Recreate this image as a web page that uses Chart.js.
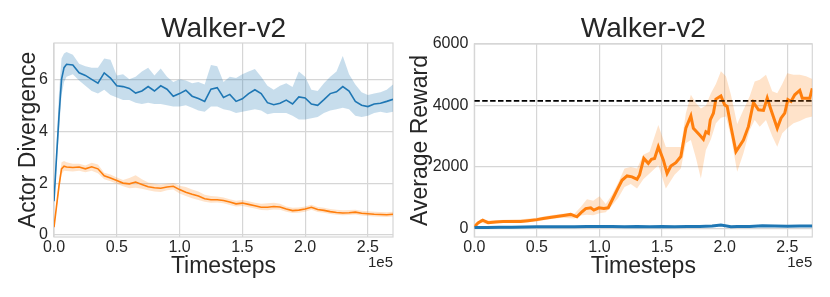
<!DOCTYPE html>
<html>
<head>
<meta charset="utf-8">
<script src="https://cdn.jsdelivr.net/npm/chart.js@4.4.0/dist/chart.umd.min.js"></script>
<style>
  html, body { margin: 0; padding: 0; background: #fff; }
  #wrap { position: relative; width: 830px; height: 297px; }
  .box { position: absolute; top: 0; height: 297px; }
</style>
</head>
<body>
<div id="wrap">
  <div class="box" style="left:0;width:405px"><canvas id="divChart" width="405" height="297"></canvas></div>
  <div class="box" style="left:405px;width:425px"><canvas id="rewChart" width="425" height="297"></canvas></div>
</div>
<script>
// x values are in units of 1e5 timesteps
const xTicks = [0, 0.5, 1.0, 1.5, 2.0, 2.5];
const divYTicks = [0, 2, 4, 6];
const rewYTicks = [0, 2000, 4000, 6000];

// --- left panel: actor divergence ---
const divX = [0, 0.02, 0.04, 0.06, 0.08, 0.10, 0.15, 0.20, 0.25, 0.30, 0.35, 0.40, 0.45, 0.50, 0.55, 0.60,
  0.65, 0.70, 0.75, 0.80, 0.85, 0.90, 0.95, 1.00, 1.05, 1.10, 1.15, 1.20, 1.25, 1.30, 1.35, 1.40, 1.45,
  1.50, 1.55, 1.60, 1.65, 1.70, 1.75, 1.80, 1.85, 1.90, 1.95, 2.00, 2.05, 2.10, 2.15, 2.20, 2.25, 2.30,
  2.35, 2.40, 2.45, 2.50, 2.55, 2.60, 2.65, 2.70];
const divBlue = [1.3, 3.0, 4.6, 6.0, 6.45, 6.58, 6.55, 6.25, 6.15, 6.0, 5.85, 6.25, 6.05, 5.75, 5.72, 5.65,
  5.47, 5.55, 5.72, 5.55, 5.75, 5.62, 5.35, 5.45, 5.58, 5.35, 5.26, 5.15, 5.62, 5.68, 5.3, 5.42, 5.15,
  5.25, 5.45, 5.6, 5.45, 5.1, 5.02, 5.08, 5.2, 5.05, 5.32, 5.28, 5.05, 5.0, 5.22, 5.45, 5.52, 5.72,
  5.55, 5.15, 5.0, 4.95, 5.05, 5.08, 5.15, 5.23];
const divBlueHi = [1.3, 3.4, 5.5, 6.8, 7.0, 7.05, 6.95, 6.6, 6.5, 6.45, 6.45, 6.8, 6.75, 6.15, 6.2, 6.0,
  6.1, 6.3, 6.45, 6.15, 6.42, 6.1, 5.9, 6.0, 5.95, 5.85, 5.9, 5.8, 6.55, 6.5, 5.9, 6.1, 6.05,
  6.2, 6.3, 6.4, 6.1, 5.75, 5.6, 5.75, 5.85, 5.7, 6.3, 6.1, 5.6, 5.55, 5.85, 6.1, 6.3, 6.9,
  6.2, 5.8, 5.5, 5.4, 5.45, 5.5, 5.6, 5.8];
const divBlueLo = [1.3, 2.6, 4.0, 5.4, 5.9, 6.1, 6.2, 5.95, 5.75, 5.55, 5.45, 5.6, 5.4, 5.3, 5.2, 5.2,
  5.1, 5.05, 5.1, 5.05, 5.05, 5.0, 4.95, 4.95, 5.0, 4.9, 4.8, 4.75, 4.95, 4.95, 4.85, 4.8, 4.7,
  4.75, 4.8, 4.85, 4.8, 4.65, 4.7, 4.7, 4.7, 4.6, 4.45, 4.45, 4.5, 4.55, 4.7, 4.8, 4.85, 4.9,
  4.85, 4.6, 4.55, 4.6, 4.7, 4.75, 4.7, 4.75];
const divOrange = [0.3, 1.1, 1.9, 2.55, 2.65, 2.62, 2.6, 2.62, 2.55, 2.63, 2.55, 2.28, 2.2, 2.1, 2.0, 1.97,
  2.04, 1.95, 1.86, 1.82, 1.8, 1.85, 1.88, 1.75, 1.65, 1.57, 1.5, 1.4, 1.36, 1.36, 1.33, 1.27, 1.2,
  1.23, 1.18, 1.13, 1.07, 1.07, 1.1, 1.08, 1.0, 0.94, 0.96, 1.0, 1.07, 0.98, 0.95, 0.9, 0.87, 0.85,
  0.86, 0.88, 0.84, 0.82, 0.8, 0.79, 0.78, 0.8];
const divOrangeHi = [0.3, 1.2, 2.1, 2.8, 2.85, 2.8, 2.75, 2.75, 2.68, 2.78, 2.72, 2.4, 2.33, 2.22, 2.12, 2.2,
  2.3, 2.15, 2.02, 1.98, 1.95, 1.98, 2.0, 1.9, 1.85, 1.75, 1.68, 1.55, 1.5, 1.48, 1.45, 1.38, 1.32,
  1.35, 1.3, 1.24, 1.2, 1.22, 1.24, 1.2, 1.1, 1.05, 1.06, 1.1, 1.17, 1.08, 1.05, 1.0, 0.97, 0.95,
  0.96, 0.97, 0.93, 0.92, 0.9, 0.89, 0.88, 0.9];
const divOrangeLo = [0.3, 1.0, 1.7, 2.35, 2.48, 2.47, 2.45, 2.48, 2.42, 2.48, 2.38, 2.15, 2.07, 1.98, 1.88, 1.8,
  1.82, 1.78, 1.72, 1.68, 1.66, 1.72, 1.75, 1.6, 1.5, 1.42, 1.35, 1.28, 1.24, 1.25, 1.22, 1.16, 1.1,
  1.12, 1.07, 1.02, 0.96, 0.95, 0.98, 0.97, 0.9, 0.85, 0.86, 0.9, 0.97, 0.89, 0.86, 0.81, 0.78, 0.76,
  0.77, 0.79, 0.75, 0.73, 0.71, 0.7, 0.69, 0.71];

// --- right panel: average reward ---
const rewX = [0, 0.03, 0.067, 0.11, 0.17, 0.23, 0.30, 0.37, 0.43, 0.50, 0.55, 0.63, 0.70, 0.77, 0.82, 0.86,
  0.89, 0.93, 0.955, 0.995, 1.035, 1.07, 1.10, 1.14, 1.18, 1.22, 1.26, 1.30, 1.32, 1.354, 1.39, 1.415,
  1.44, 1.47, 1.51, 1.54, 1.57, 1.61, 1.65, 1.69, 1.73, 1.75, 1.80, 1.83, 1.85, 1.87, 1.885, 1.91,
  1.93, 1.97, 2.00, 2.02, 2.05, 2.09, 2.15, 2.19, 2.23, 2.27, 2.31, 2.34, 2.37, 2.42, 2.45, 2.48,
  2.505, 2.53, 2.56, 2.60, 2.62, 2.68, 2.70];
const rewOrange = [50, 185, 270, 190, 215, 225, 225, 230, 255, 290, 325, 375, 415, 460, 380, 545,
  650, 675, 600, 675, 650, 675, 920, 1250, 1570, 1710, 1680, 1600, 1740, 2280, 2120, 2250,
  2280, 2660, 2230, 1790, 2030, 2140, 2340, 3260, 3660, 3260, 3040, 2900, 3150, 3100, 3530, 3750,
  4210, 4310, 4020, 3970, 3320, 2500, 2880, 3320, 4100, 3860, 3840, 4240, 3860, 3260, 3590, 3750,
  4190, 4130, 4350, 4490, 4240, 4240, 4560];
const rewBandX = [0, 0.05, 0.1, 0.2, 0.3, 0.4, 0.5, 0.6, 0.7, 0.8, 0.85, 0.9, 0.95, 1.0, 1.05, 1.1,
  1.15, 1.2, 1.25, 1.3, 1.35, 1.4, 1.47, 1.53, 1.6, 1.65, 1.69, 1.73, 1.77, 1.81, 1.85, 1.89,
  1.93, 1.97, 2.01, 2.05, 2.1, 2.15, 2.2, 2.24, 2.28, 2.33, 2.38, 2.42, 2.46, 2.5, 2.55, 2.6,
  2.65, 2.7];
const rewOrangeHi = [60, 300, 260, 280, 290, 310, 350, 420, 480, 480, 700, 950, 900, 1050, 800, 1100,
  1500, 1950, 2000, 1950, 2400, 2500, 3370, 2650, 2650, 2650, 3750, 4350, 4080, 3900, 4000, 4400,
  4700, 5110, 4950, 4350, 3400, 3860, 4300, 4780, 4840, 5000, 4460, 4400, 4700, 5050, 5000, 5000,
  4950, 4860];
const rewOrangeLo = [40, 190, 150, 180, 180, 200, 230, 300, 350, 330, 420, 450, 430, 500, 530, 750,
  1000, 1350, 1450, 1300, 1600, 1790, 2060, 1300, 1750, 1950, 2770, 2880, 2300, 1630, 2550, 2900,
  3420, 3600, 3640, 2990, 1850, 2450, 3200, 3530, 3310, 3530, 3000, 2660, 3100, 3260, 3420, 3500,
  3590, 3640];
const rewBlueX = [0, 0.1, 0.2, 0.3, 0.4, 0.5, 0.6, 0.7, 0.8, 0.9, 1.0, 1.1, 1.2, 1.3, 1.4, 1.5, 1.6,
  1.7, 1.8, 1.9, 1.97, 2.05, 2.1, 2.2, 2.3, 2.4, 2.5, 2.6, 2.7];
const rewBlue = [30, 35, 40, 45, 50, 55, 55, 60, 60, 65, 70, 65, 60, 65, 60, 65, 60,
  70, 70, 80, 115, 60, 65, 70, 90, 80, 75, 80, 85];
const rewBlueHi = [40, 55, 60, 65, 70, 75, 75, 80, 80, 85, 90, 85, 80, 85, 80, 85, 80,
  90, 95, 105, 145, 85, 90, 95, 115, 105, 100, 105, 110];
const rewBlueLo = [20, 15, 20, 25, 30, 35, 35, 40, 40, 45, 50, 45, 40, 45, 40, 45, 40,
  50, 50, 55, 85, 40, 45, 50, 65, 55, 50, 55, 60];
const rewRef = [4150];

const BLUE = '#1f77b4', ORANGE = '#ff7f0e';
const BLUE_FILL = 'rgba(31,119,180,0.25)', ORANGE_FILL = 'rgba(255,127,14,0.22)';
const GRID = '#d6d6d6', TEXT = '#262626';
const FONT = '"Liberation Sans", Arial, sans-serif';

function pts(xs, ys) {
  return xs.map((x, i) => ({ x, y: ys[i] }));
}

function band(xs, hi, lo, color) {
  return [
    { data: pts(xs, hi), borderWidth: 0, pointRadius: 0, backgroundColor: color, fill: '+1' },
    { data: pts(xs, lo), borderWidth: 0, pointRadius: 0, fill: false }
  ];
}

function line(xs, ys, color, w) {
  return { data: pts(xs, ys), borderColor: color, borderWidth: w, pointRadius: 0, fill: false };
}

// light frame round the plot + the "1e5" offset text
const frameAndOffset = {
  id: 'frameAndOffset',
  beforeDatasetsDraw(chart) {
    const { ctx, chartArea: a } = chart;
    ctx.save();
    ctx.strokeStyle = GRID;
    ctx.lineWidth = 1.2;
    ctx.strokeRect(a.left, a.top, a.right - a.left, a.bottom - a.top);
    ctx.restore();
  },
  afterDraw(chart) {
    const { ctx, chartArea: a } = chart;
    ctx.save();
    ctx.font = '15px ' + FONT;
    ctx.fillStyle = TEXT;
    ctx.textAlign = 'right';
    ctx.textBaseline = 'top';
    ctx.fillText('1e5', a.right, a.bottom + 18);
    ctx.restore();
  }
};

function makeOptions(o) {
  return {
    responsive: false,
    animation: false,
    events: [],
    layout: { padding: { left: 0, right: o.padRight, top: 0, bottom: 0 } },
    plugins: {
      legend: { display: false },
      tooltip: { enabled: false },
      title: {
        display: true, text: 'Walker-v2', fullSize: false, color: TEXT,
        font: { family: FONT, size: 28, weight: 'normal', lineHeight: 1.0 },
        padding: { top: 15, bottom: o.titleBottom }
      }
    },
    scales: {
      x: {
        type: 'linear', min: 0, max: 2.7,
        afterBuildTicks: s => { s.ticks = xTicks.map(v => ({ value: v })); },
        afterFit: s => { s.height = 60; },
        grid: { color: GRID, lineWidth: 1.2, drawTicks: false },
        border: { display: false },
        ticks: { color: TEXT, padding: 1, font: { family: FONT, size: 16 }, callback: v => v.toFixed(1) },
        title: { display: true, text: 'Timesteps', color: TEXT, padding: { bottom: 17 },
          font: { family: FONT, size: 23, lineHeight: 1.2 } }
      },
      y: {
        type: 'linear', min: o.yMin, max: o.yMax,
        afterBuildTicks: s => { s.ticks = o.yTicks.map(v => ({ value: v })); },
        afterFit: s => { s.width = o.yWidth; },
        grid: { color: GRID, lineWidth: 1.2, drawTicks: false },
        border: { display: false },
        ticks: { color: TEXT, padding: 6, font: { family: FONT, size: 16 }, callback: v => String(v) },
        title: { display: true, text: o.yTitle, color: TEXT, padding: { top: o.yTitlePad },
          font: { family: FONT, size: 23, lineHeight: 1.2 } }
      }
    }
  };
}

new Chart(document.getElementById('divChart'), {
  type: 'line',
  data: {
    datasets: [
      ...band(divX, divBlueHi, divBlueLo, BLUE_FILL),
      ...band(divX, divOrangeHi, divOrangeLo, ORANGE_FILL),
      line(divX, divBlue, BLUE, 1.6),
      line(divX, divOrange, ORANGE, 1.6)
    ]
  },
  options: makeOptions({ padRight: 12, titleBottom: 0, yMin: -0.077, yMax: 7.4, yTicks: divYTicks,
    yWidth: 54, yTitle: 'Actor Divergence', yTitlePad: 15 }),
  plugins: [frameAndOffset]
});

new Chart(document.getElementById('rewChart'), {
  type: 'line',
  data: {
    datasets: [
      ...band(rewBandX, rewOrangeHi, rewOrangeLo, ORANGE_FILL),
      ...band(rewBlueX, rewBlueHi, rewBlueLo, BLUE_FILL),
      { data: [{ x: 0, y: rewRef[0] }, { x: 2.7, y: rewRef[0] }], borderColor: '#000', borderWidth: 1.6,
        borderDash: [5.5, 2.4], pointRadius: 0, fill: false },
      line(rewBlueX, rewBlue, BLUE, 3),
      line(rewX, rewOrange, ORANGE, 3)
    ]
  },
  options: makeOptions({ padRight: 17.7, titleBottom: 1, yMin: -275, yMax: 6000, yTicks: rewYTicks,
    yWidth: 69.3, yTitle: 'Average Reward', yTitlePad: 2 }),
  plugins: [frameAndOffset]
});
</script>
</body>
</html>
